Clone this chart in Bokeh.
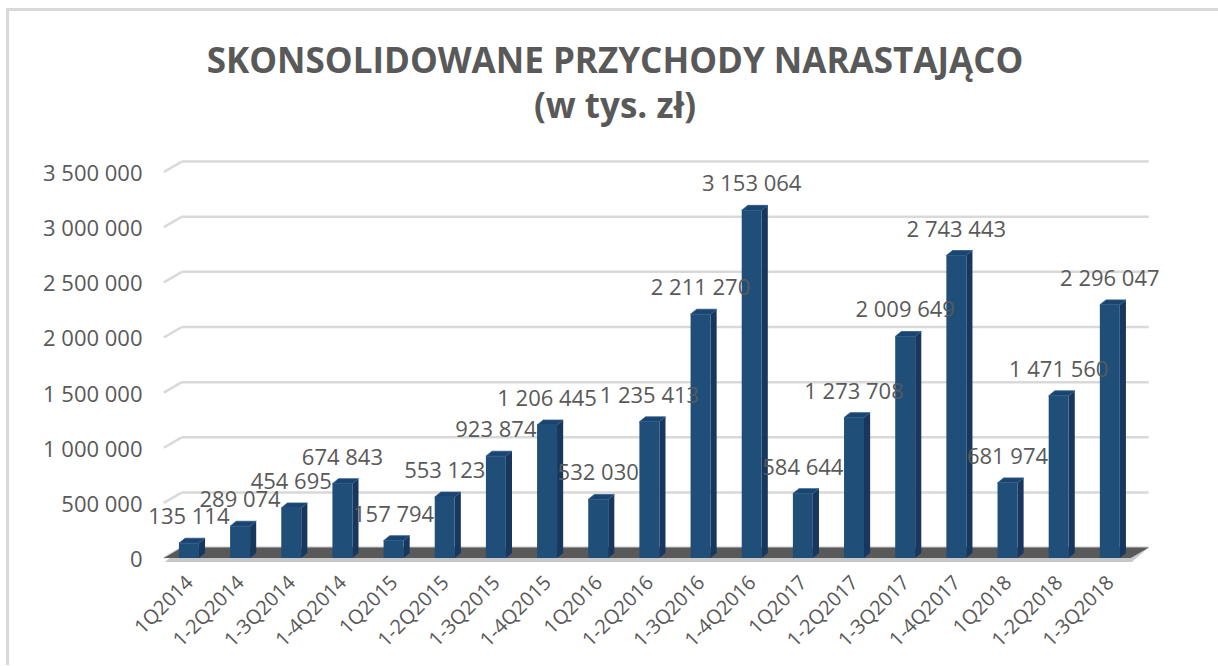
from bokeh.plotting import figure
from bokeh.models import FixedTicker, ColumnDataSource, Div
from bokeh.layouts import column
from bokeh.core.properties import value
from bokeh.embed import file_html
from bokeh.resources import INLINE
import math

categories = ["1Q2014", "1-2Q2014", "1-3Q2014", "1-4Q2014", "1Q2015", "1-2Q2015",
              "1-3Q2015", "1-4Q2015", "1Q2016", "1-2Q2016", "1-3Q2016", "1-4Q2016",
              "1Q2017", "1-2Q2017", "1-3Q2017", "1-4Q2017", "1Q2018", "1-2Q2018", "1-3Q2018"]
revenues = [135114, 289074, 454695, 674843, 157794, 553123,
            923874, 1206445, 532030, 1235413, 2211270, 3153064,
            584644, 1273708, 2009649, 2743443, 681974, 1471560, 2296047]
y_ticks = [0, 500000, 1000000, 1500000, 2000000, 2500000, 3000000, 3500000]
title_lines = ["SKONSOLIDOWANE PRZYCHODY NARASTAJĄCO", "(w tys. zł)"]

def fmt(v):
    return f"{v:,}".replace(",", " ")

FONT = "Open Sans"
GRAY = "#595959"

n = len(categories)
xs = list(range(n))
W = 0.39      # bar front width (category units)
D = 0.12      # bar depth offset x
DY = 45000    # bar depth offset y
BX = 0.35     # back wall offset x
BY = 95000    # back wall offset y
X0 = -0.49
X1 = n - 1 + 0.41
Y_END = 3650000

title = Div(text="<br>".join(title_lines), width=1202, height=134,
            styles={"font-family": FONT, "font-size": "35px", "font-weight": "bold",
                    "color": GRAY, "text-align": "center", "line-height": "45px",
                    "padding-top": "21px", "box-sizing": "border-box",
                    "background-color": "white"})

p = figure(width=1202, height=510, x_range=(X0 - 0.3, X1 + BX + 0.25), y_range=(-40000, Y_END),
           output_backend="svg", toolbar_location=None, title=None,
           min_border_left=139, min_border_right=50, min_border_top=0, min_border_bottom=103)
p.outline_line_color = None
p.xgrid.grid_line_color = None
p.ygrid.grid_line_color = None
p.background_fill_color = "white"
p.border_fill_color = "white"

# back-wall gridlines with 3D stub
gx0 = [X0 + BX] * len(y_ticks)
gx1 = [X1 + BX] * len(y_ticks)
gy = [t + BY for t in y_ticks]
p.segment(x0=gx0, y0=gy, x1=gx1, y1=gy, line_color="#d9d9d9", line_width=2.5)
p.segment(x0=[X0] * len(y_ticks), y0=y_ticks, x1=gx0, y1=gy, line_color="#d9d9d9", line_width=2.5)

# floor shadow and floor
p.patch(x=[X0 + 0.02, X1 + 0.02, X1 + BX, X0 + BX], y=[-35000, -35000, BY, BY],
        fill_color="#c8c8c8", line_color=None)
p.patch(x=[X0, X1, X1 + BX, X0 + BX], y=[0, 0, BY, BY], fill_color=GRAY, line_color=None)

# bars: side, top, front
side_xs = [[x + W / 2, x + W / 2 + D, x + W / 2 + D, x + W / 2] for x in xs]
side_ys = [[0, DY, v + DY, v] for v in revenues]
top_xs = [[x - W / 2, x + W / 2, x + W / 2 + D, x - W / 2 + D] for x in xs]
top_ys = [[v, v, v + DY, v + DY] for v in revenues]
p.patches(xs=side_xs, ys=side_ys, fill_color="#17375e", line_color=None)
p.patches(xs=top_xs, ys=top_ys, fill_color="#1b4570", line_color="#2a5b8c", line_width=0.8)
p.vbar(x=xs, top=revenues, bottom=0, width=W, fill_color="#1f4e79", line_color=None)

# data labels
src = ColumnDataSource(dict(x=xs, y=[v + DY for v in revenues], t=[fmt(v) for v in revenues]))
p.text(x="x", y="y", text="t", source=src, text_align="center", text_baseline="bottom",
       y_offset=-8, text_font=value(FONT), text_font_size="22px", text_color=GRAY)

# axes
p.yaxis.ticker = FixedTicker(ticks=y_ticks)
p.yaxis.major_label_overrides = {t: fmt(t) for t in y_ticks}
p.yaxis.axis_line_color = None
p.yaxis.major_tick_line_color = None
p.yaxis.minor_tick_line_color = None
p.yaxis.major_label_standoff = 0
p.yaxis.major_label_text_font = FONT
p.yaxis.major_label_text_font_size = "22px"
p.yaxis.major_label_text_color = GRAY

p.xaxis.ticker = FixedTicker(ticks=xs)
p.xaxis.major_label_overrides = {i: c for i, c in enumerate(categories)}
p.xaxis.major_label_orientation = math.pi / 4
p.xaxis.axis_line_color = None
p.xaxis.major_tick_line_color = None
p.xaxis.minor_tick_line_color = None
p.xaxis.major_label_standoff = 10
p.xaxis.major_label_text_font = FONT
p.xaxis.major_label_text_font_size = "20px"
p.xaxis.major_label_text_color = GRAY

layout = column(title, p, spacing=0,
                styles={"border-left": "3px solid #d9d9d9", "border-top": "3px solid #d9d9d9",
                        "margin-left": "6px", "margin-top": "8px", "background-color": "white"})

open("out.html", "w").write(file_html(layout, INLINE))
